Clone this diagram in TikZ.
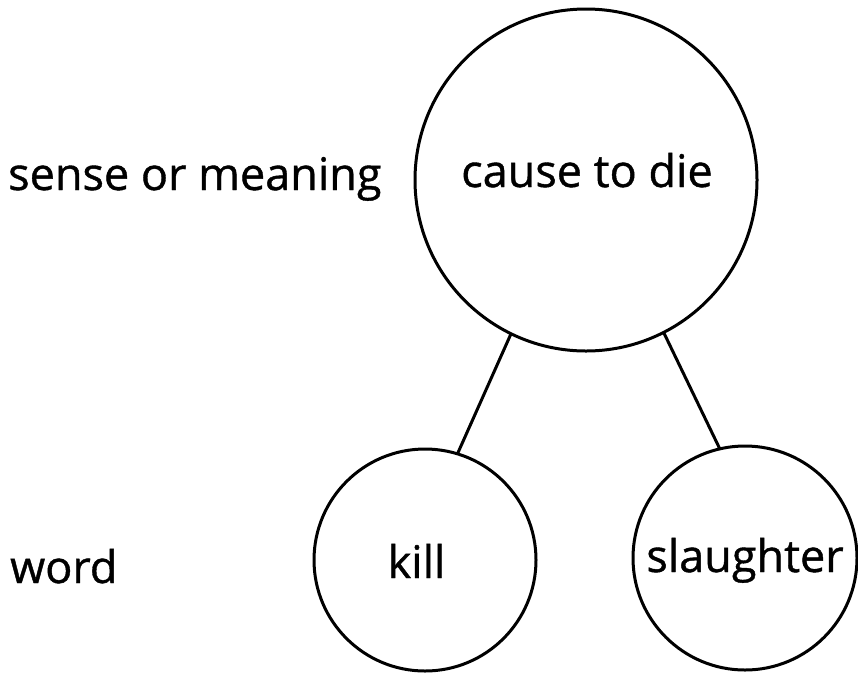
\documentclass[tikz,border=0pt]{standalone}
\usepackage{fontspec}
\setmainfont{Open Sans}
\newfontfamily\medfont{Open Sans}[FakeBold=0.9]
\begin{document}
\begin{tikzpicture}[x=1pt,y=-1pt,
  ring/.style={draw, circle, line width=3pt, inner sep=0pt, outer sep=0pt},
  txt/.style={font=\medfont\fontsize{45}{50}\selectfont, inner sep=0pt, anchor=base},
  link/.style={line width=3pt}]
\useasboundingbox (0,0) rectangle (858,673);
\node[ring, minimum size=342pt] (sense) at (586,180) {};
\node[ring, minimum size=222pt] (kill) at (425,560) {};
\node[ring, minimum size=224pt] (slaughter) at (745,558) {};
\node[txt] (senset) at (587,187) {cause to die};
\node[txt] (killt) at (416.5,578) {kill};
\node[txt] (slaughtert) at (745,572) {slaughter};
\node[txt, anchor=base west] (senselbl) at (8,190) {sense or meaning};
\node[txt, anchor=base west] (wordlbl) at (10,583) {word};
\draw[link] (sense.244.8) -- (kill.73.8);
\draw[link] (sense.297.5) -- (slaughter.103.4);
\end{tikzpicture}
\end{document}
